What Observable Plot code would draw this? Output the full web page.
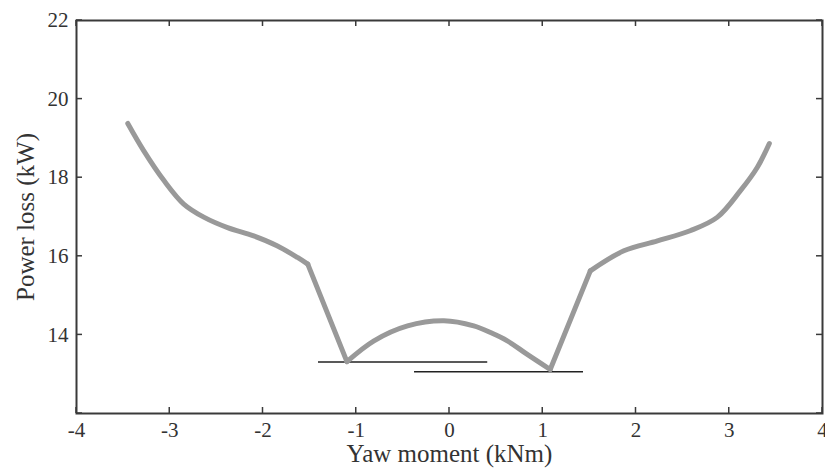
<!DOCTYPE html>
<html>
<head>
<meta charset="utf-8">
<script src="https://cdn.jsdelivr.net/npm/d3@7"></script>
<script src="https://cdn.jsdelivr.net/npm/@observablehq/plot@0.6"></script>
<style>
  html, body { margin: 0; padding: 0; background: #fff; }
</style>
</head>
<body>
<div id="chart"></div>
<script>
const yawMoment = [-3.45, -3.28, -3.06, -2.85, -2.63, -2.38, -2.10, -1.85, -1.63, -1.52,
  -1.52, -1.10,
  -1.10, -0.81, -0.45, -0.06, 0.26, 0.44, 0.62, 0.83, 1.08,
  1.08, 1.51,
  1.51, 1.87, 2.23, 2.58, 2.87, 3.12, 3.30, 3.43];
const powerLoss = [19.38, 18.69, 17.92, 17.33, 16.99, 16.73, 16.52, 16.27, 15.97, 15.80,
  15.80, 13.32,
  13.32, 13.85, 14.23, 14.36, 14.23, 14.06, 13.85, 13.51, 13.12,
  13.12, 15.63,
  15.63, 16.14, 16.39, 16.65, 16.99, 17.67, 18.26, 18.87];
const segment = [1, 1, 1, 1, 1, 1, 1, 1, 1, 1,
  2, 2,
  3, 3, 3, 3, 3, 3, 3, 3, 3,
  4, 4,
  5, 5, 5, 5, 5, 5, 5, 5];
const refLineX1 = [-1.405, -0.375];
const refLineX2 = [0.41, 1.437];
const refLineY = [13.31, 13.06];
const xTicks = [-4, -3, -2, -1, 0, 1, 2, 3, 4];
const yTicks = [12, 14, 16, 18, 20, 22];
const yTickLabels = [14, 16, 18, 20, 22];
const xLabel = "Yaw moment (kNm)";
const yLabel = "Power loss (kW)";

(function () {
  const curve = yawMoment.map((x, i) => ({x, y: powerLoss[i], s: segment[i]}));
  const refs = refLineY.map((y, i) => ({x1: refLineX1[i], x2: refLineX2[i], y}));

  const W = 825, H = 471, mL = 76, mR = 3, mT = 20, mB = 58, tick = 6;
  const axisColor = "#3a3a3a";
  const fmt = d => String(d);
  const chart = Plot.plot({
    width: W,
    height: H,
    marginLeft: mL,
    marginRight: mR,
    marginTop: mT,
    marginBottom: mB,
    style: {fontFamily: "'Liberation Serif', 'Times New Roman', serif", fontSize: "21px", color: "#333", background: "#fff", overflow: "visible"},
    x: {domain: [-4, 4], label: null},
    y: {domain: [12, 22], label: null},
    marks: [
      Plot.axisX(xTicks, {anchor: "bottom", tickSize: 0, tickPadding: 9, tickFormat: fmt, fill: "#333", fontSize: 21, label: null}),
      Plot.axisY(yTickLabels, {anchor: "left", tickSize: 0, tickPadding: 8, tickFormat: fmt, fill: "#333", fontSize: 21, label: null}),
      Plot.frame({stroke: axisColor, strokeWidth: 2}),
      Plot.ruleY(refs, {x1: "x1", x2: "x2", y: "y", stroke: "#222", strokeWidth: 1.5}),
      Plot.line(curve, {x: "x", y: "y", z: "s", curve: "catmull-rom", stroke: "#999", strokeWidth: 5, strokeLinejoin: "round", strokeLinecap: "round"}),
      Plot.text([xLabel], {frameAnchor: "bottom", dy: 48, fontSize: 25, fill: "#333"}),
      Plot.text([yLabel], {frameAnchor: "left", dx: -51, rotate: -90, textAnchor: "middle", fontSize: 25, fill: "#333"})
    ]
  });

  // inward tick marks on all four sides, placed with Plot's own scales
  const sx = chart.scale("x"), sy = chart.scale("y");
  const fLeft = mL, fRight = W - mR, fTop = mT, fBottom = H - mB;
  const g = d3.select(chart).append("g")
    .attr("stroke", axisColor).attr("stroke-width", 1.5).attr("fill", "none");
  for (const v of xTicks) {
    const px = sx.apply(v);
    g.append("line").attr("x1", px).attr("x2", px).attr("y1", fBottom).attr("y2", fBottom - tick);
    g.append("line").attr("x1", px).attr("x2", px).attr("y1", fTop).attr("y2", fTop + tick);
  }
  for (const v of yTicks) {
    const py = sy.apply(v);
    g.append("line").attr("y1", py).attr("y2", py).attr("x1", fLeft).attr("x2", fLeft + tick);
    g.append("line").attr("y1", py).attr("y2", py).attr("x1", fRight).attr("x2", fRight - tick);
  }
  document.getElementById("chart").appendChild(chart);
})();
</script>
</body>
</html>
